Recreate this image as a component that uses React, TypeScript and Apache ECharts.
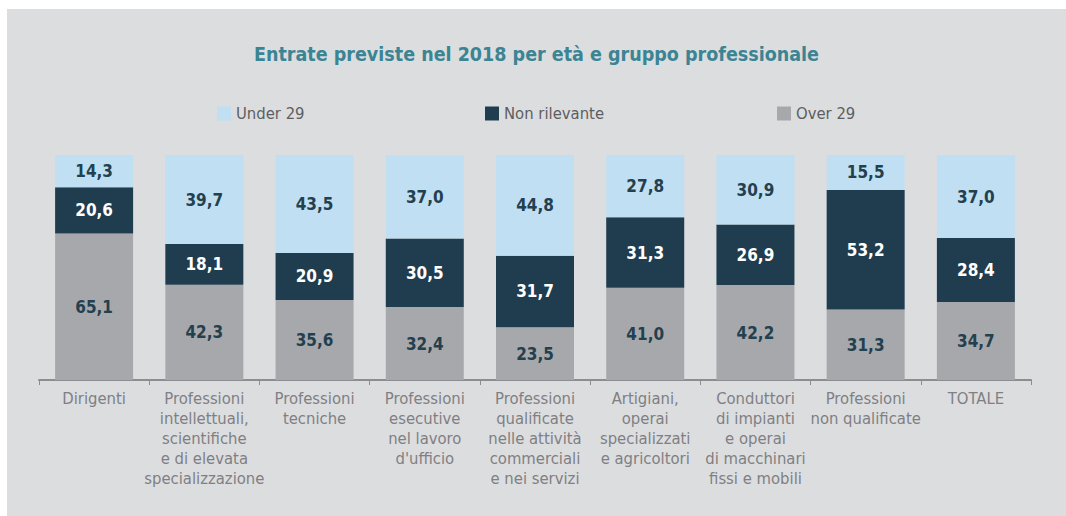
import React, { useEffect, useRef } from "react";
import * as echarts from "echarts";

const categories = [
  "Dirigenti",
  "Professioni\nintellettuali,\nscientifiche\ne di elevata\nspecializzazione",
  "Professioni\ntecniche",
  "Professioni\nesecutive\nnel lavoro\nd'ufficio",
  "Professioni\nqualificate\nnelle attività\ncommerciali\ne nei servizi",
  "Artigiani,\noperai\nspecializzati\ne agricoltori",
  "Conduttori\ndi impianti\ne operai\ndi macchinari\nfissi e mobili",
  "Professioni\nnon qualificate",
  "TOTALE",
];
const over29 = [65.1, 42.3, 35.6, 32.4, 23.5, 41.0, 42.2, 31.3, 34.7];
const nonRilevante = [20.6, 18.1, 20.9, 30.5, 31.7, 31.3, 26.9, 53.2, 28.4];
const under29 = [14.3, 39.7, 43.5, 37.0, 44.8, 27.8, 30.9, 15.5, 37.0];

const FONT = "'Liberation Sans Narrow', 'DejaVu Sans Condensed', 'Roboto', sans-serif";

export default function App() {
  const ref = useRef<HTMLDivElement>(null);
  useEffect(() => {
    if (!ref.current) return;
    const chart = echarts.init(ref.current, null, { renderer: "svg" });
    const fmt = (p: any) => Number(p.value).toFixed(1).replace(".", ",");
    const labelBase = {
      show: true,
      position: "inside" as const,
      fontFamily: FONT,
      fontWeight: "bold" as const,
      fontSize: 17,
      formatter: fmt,
    };
    chart.setOption({
      animation: false,
      backgroundColor: "transparent",
      title: {
        text: "Entrate previste nel 2018 per età e gruppo professionale",
        left: "center",
        top: 30,
        textStyle: {
          color: "#3a8494",
          fontFamily: FONT,
          fontWeight: "bold",
          fontSize: 19.5,
        },
      },
      legend: [
        { data: ["Under 29"], left: 205 },
        { data: ["Non rilevante"], left: 473 },
        { data: ["Over 29"], left: 765 },
      ].map((l) => ({
        ...l,
        top: 91,
        itemWidth: 14,
        itemHeight: 14,
        itemGap: 8,
        icon: "rect",
        textStyle: { color: "#5d5e61", fontFamily: FONT, fontSize: 16.5 },
      })),
      grid: { left: 32, right: 35, top: 146, bottom: 136, containLabel: false },
      xAxis: {
        type: "category",
        data: categories,
        axisLine: { lineStyle: { color: "#8c8d90", width: 2 } },
        axisTick: { show: true, length: 5, lineStyle: { color: "#8c8d90" } },
        axisLabel: {
          color: "#7f8083",
          fontFamily: FONT,
          fontSize: 16.5,
          lineHeight: 20,
          interval: 0,
          margin: 8,
        },
      },
      yAxis: {
        type: "value",
        min: 0,
        max: 100,
        show: false,
        splitLine: { show: false },
      },
      series: [
        {
          name: "Over 29",
          type: "bar",
          stack: "t",
          barWidth: 78,
          data: over29,
          itemStyle: { color: "#a7a8ab" },
          label: { ...labelBase, color: "#23404f" },
        },
        {
          name: "Non rilevante",
          type: "bar",
          stack: "t",
          barWidth: 78,
          data: nonRilevante,
          itemStyle: { color: "#1f3d4e" },
          label: { ...labelBase, color: "#ffffff" },
        },
        {
          name: "Under 29",
          type: "bar",
          stack: "t",
          barWidth: 78,
          data: under29,
          itemStyle: { color: "#c0dff2" },
          label: { ...labelBase, color: "#23404f" },
        },
      ],
    });
    return () => chart.dispose();
  }, []);
  return (
    <div
      style={{
        position: "absolute",
        left: 0,
        top: 0,
        width: 1066,
        height: 516,
        background: "#ffffff",
      }}
    >
      <div
        ref={ref}
        style={{
          position: "absolute",
          left: 7,
          top: 9,
          width: 1059,
          height: 507,
          background: "#dcdddf",
        }}
      />
    </div>
  );
}
